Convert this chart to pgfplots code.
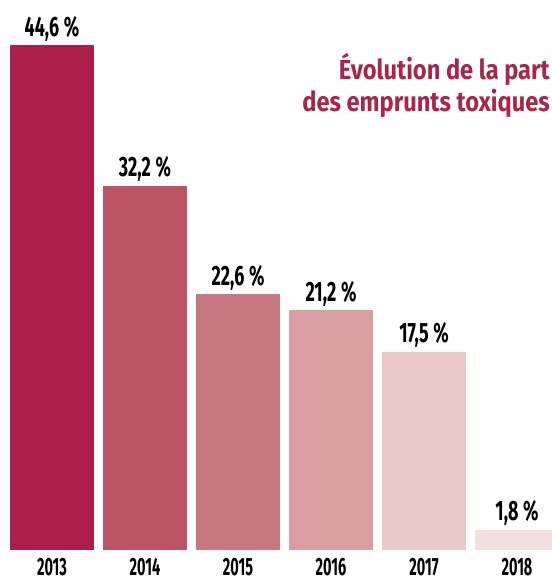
\documentclass[border=0pt]{standalone}
\usepackage{pgfplots}
\pgfplotsset{compat=1.18}
\usepackage{fontspec}
\setmainfont{Fira Sans}
\newfontfamily\valfont{Fira Sans}[FakeStretch=0.64]
\newfontfamily\yearfont{Fira Sans}[FakeStretch=0.58]
\newfontfamily\titlefont{Fira Sans}[FakeStretch=0.86]
\definecolor{c1}{HTML}{AA1F4C}
\definecolor{c2}{HTML}{BC5366}
\definecolor{c3}{HTML}{C77880}
\definecolor{c4}{HTML}{D89EA1}
\definecolor{c5}{HTML}{EACAC9}
\definecolor{c6}{HTML}{F2E0E0}
\definecolor{titlecol}{HTML}{A8264E}
\begin{document}
\begin{tikzpicture}
\begin{axis}[
  at={(0,0)}, anchor=south west,
  scale only axis, width=552bp, height=577bp,
  xmin=-0.5591, xmax=5.3763,
  ymin=-2.385, ymax=48.59,
  axis line style={draw=none},
  major tick style={draw=none},
  ytick=\empty,
  xtick={0,1,2,3,4,5},
  xticklabels={2013,2014,2015,2016,2017,2018},
  xticklabel style={anchor=base, inner sep=0pt, yshift=6bp, font=\yearfont\bfseries\fontsize{25bp}{27bp}\selectfont},
  ybar, bar width=0.903, bar shift=0pt,
  nodes near coords={\pgfmathprintnumber[fixed,fixed zerofill,precision=1,use comma,assume math mode=true]{\pgfplotspointmeta}\,\%},
  every node near coord/.style={anchor=base, yshift=9bp, text=black, font=\valfont\bfseries\fontsize{28bp}{30bp}\selectfont},
]
\addplot[fill=c1, draw=none] coordinates {(0,44.6)};
\addplot[fill=c2, draw=none] coordinates {(1,32.2)};
\addplot[fill=c3, draw=none] coordinates {(2,22.6)};
\addplot[fill=c4, draw=none] coordinates {(3,21.2)};
\addplot[fill=c5, draw=none] coordinates {(4,17.5)};
\addplot[fill=c6, draw=none] coordinates {(5,1.8)};
\node[anchor=base east, inner sep=0pt, text=titlecol, font=\titlefont\bfseries\fontsize{27.5bp}{30bp}\selectfont] at (rel axis cs:0.9964,0.8630) {Évolution de la part};
\node[anchor=base east, inner sep=0pt, text=titlecol, font=\titlefont\bfseries\fontsize{27.5bp}{30bp}\selectfont] at (rel axis cs:0.9964,0.8076) {des emprunts toxiques};
\end{axis}
\pgfresetboundingbox
\useasboundingbox (current axis.south west) rectangle (current axis.north east);
\end{tikzpicture}
\end{document}
